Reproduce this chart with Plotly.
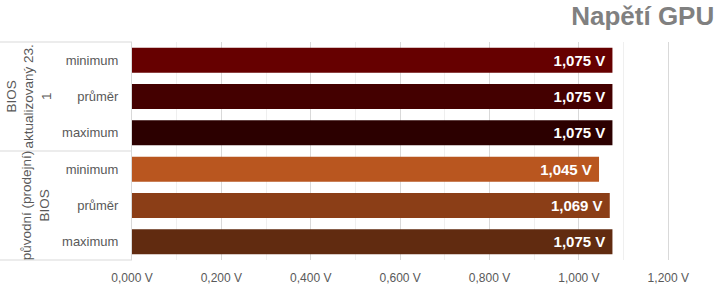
import plotly.graph_objects as go

groups = ["BIOS<br>aktualizovaný 23.<br>1", "původní (prodejní)<br>BIOS"]
subcats = ["minimum", "průměr", "maximum"]
values = [1.075, 1.075, 1.075, 1.045, 1.069, 1.075]
colors = ["#660000", "#440000", "#2C0000", "#B9561F", "#8B3E17", "#612B10"]
xticks = [0, 0.2, 0.4, 0.6, 0.8, 1.0, 1.2]
xticklabels = ["0,000 V", "0,200 V", "0,400 V", "0,600 V", "0,800 V", "1,000 V", "1,200 V"]

keys = [f"{g}|{s}" for g in range(len(groups)) for s in subcats]
ticktext = [s for g in groups for s in subcats]

fig = go.Figure(go.Bar(
    x=values, y=keys, orientation="h",
    marker=dict(color=colors, line=dict(width=0)),
    texttemplate="%{x:.3f} V\u00a0", textposition="inside", insidetextanchor="end",
    textfont=dict(family="Liberation Sans, Arial", size=15, color="white", weight="bold"),
    cliponaxis=False,
))

fig.update_layout(
    width=720, height=285,
    margin=dict(l=132, r=7, t=42, b=25, autoexpand=False),
    paper_bgcolor="white", plot_bgcolor="white",
    separators=", ",
    bargap=0.31,
    showlegend=False,
    font=dict(family="Liberation Sans, Arial", color="#595959"),
    title=dict(text="<b>Napětí GPU</b>", x=0.992, xanchor="right", y=0.975, yanchor="top",
               font=dict(size=26, color="#808080"), automargin=False),
)
fig.update_xaxes(range=[0, 1.3], tickvals=xticks, ticktext=xticklabels,
                 showgrid=True, gridcolor="#d9d9d9", gridwidth=1,
                 minor=dict(dtick=0.1, tick0=0, showgrid=True, gridcolor="#efefef"),
                 zeroline=False, tickfont=dict(size=12, color="#595959"), ticks="",
                 ticklabelstandoff=9, automargin=False)
fig.update_yaxes(categoryorder="array", categoryarray=keys, autorange="reversed",
                 tickvals=keys, ticktext=ticktext, tickfont=dict(size=13, color="#595959"),
                 showline=True, linecolor="#d9d9d9", ticks="", ticklabelstandoff=10,
                 automargin=False)

x0 = -132 / 581
for yy in [0, 0.5, 1]:
    fig.add_shape(type="line", xref="paper", yref="paper", x0=x0, x1=0, y0=yy, y1=yy,
                  line=dict(color="#d9d9d9", width=1))

for i, g in enumerate(groups):
    nlines = g.count("<br>") + 1
    cx_px = 43.5 - (nlines - 1) * 15.5 / 2
    fig.add_annotation(text=g, textangle=-90, xref="paper", yref="paper",
                       x=(cx_px - 132) / 581, y=0.75 - 0.5 * i, xanchor="center", yanchor="middle",
                       showarrow=False, font=dict(size=13.5, color="#595959"))

fig.write_html("out.html")
